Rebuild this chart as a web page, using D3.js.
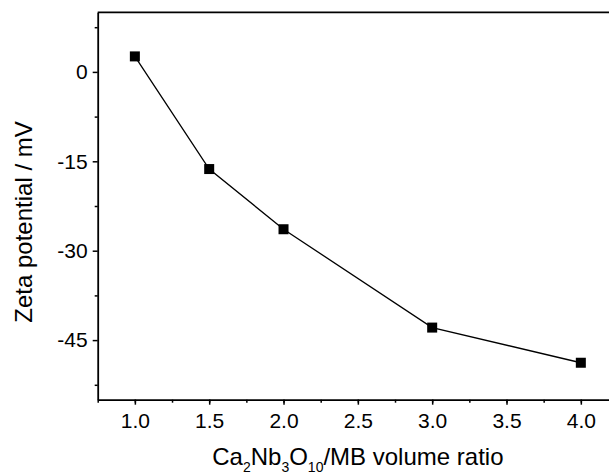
<!DOCTYPE html>
<html>
<head>
<meta charset="utf-8">
<script src="https://d3js.org/d3.v7.min.js"></script>
<style>
body { margin: 0; background: #fff; }
svg { display: block; font-family: "Liberation Sans", Arial, sans-serif; }
.axis path, .axis line { stroke: #000; }
</style>
</head>
<body>
<svg id="chart"></svg>
<script>
// data
var ratio = [1.0, 1.5, 2.0, 3.0, 4.0];
var zeta = [2.6, -16.3, -26.4, -42.9, -48.8];
var xTicks = [1.0, 1.5, 2.0, 2.5, 3.0, 3.5, 4.0];
var yTicks = [-45, -30, -15, 0];

var width = 609, height = 476;
var mLeft = 97.7, mTop = 12.3, mBottom = 399.7, mRight = 618;

var svg = d3.select("#chart").attr("width", width).attr("height", height);

var x = d3.scaleLinear().domain([0.75, 4.25]).range([mLeft, mRight]);
var y = d3.scaleLinear().domain([-55, 10]).range([mBottom, mTop]);

function styleAxis(g) {
    g.attr("font-family", "Liberation Sans, Arial, sans-serif").attr("font-size", 21);
    g.selectAll("text").attr("fill", "#000");
}

// minor ticks
svg.append("g")
    .attr("class", "axis")
    .attr("transform", "translate(0," + mBottom + ")")
    .call(d3.axisBottom(x).tickValues(d3.range(0.75, 4.3, 0.25)).tickSize(3).tickFormat("").tickSizeOuter(0))
    .call(function(g) { g.select(".domain").remove(); })
    .selectAll("line").attr("stroke-width", 1.5);

svg.append("g")
    .attr("class", "axis")
    .attr("transform", "translate(" + mLeft + ",0)")
    .call(d3.axisLeft(y).tickValues([7.5, -7.5, -22.5, -37.5, -52.5]).tickSize(3).tickFormat(""))
    .call(function(g) { g.select(".domain").remove(); })
    .selectAll("line").attr("stroke-width", 1.5);

// major axes
var xAxis = svg.append("g")
    .attr("class", "axis")
    .attr("transform", "translate(0," + mBottom + ")")
    .call(d3.axisBottom(x).tickValues(xTicks).tickSize(5).tickSizeOuter(0).tickPadding(8)
        .tickFormat(function(d) { return d.toFixed(1); }))
    .call(styleAxis);
xAxis.select(".domain").attr("stroke-width", 1.8);
xAxis.selectAll(".tick line").attr("stroke-width", 1.5);

var yAxis = svg.append("g")
    .attr("class", "axis")
    .attr("transform", "translate(" + mLeft + ",0)")
    .call(d3.axisLeft(y).tickValues(yTicks).tickSize(5).tickSizeOuter(0).tickPadding(5)
        .tickFormat(function(d) { return String(d); }))
    .call(styleAxis);
yAxis.select(".domain").attr("stroke-width", 1.8);
yAxis.selectAll(".tick line").attr("stroke-width", 1.5);

// top frame line
svg.append("line")
    .attr("x1", mLeft).attr("x2", mRight)
    .attr("y1", mTop).attr("y2", mTop)
    .attr("stroke", "#000").attr("stroke-width", 1.8);

// data line + markers
var pts = ratio.map(function(r, i) { return [r, zeta[i]]; });
svg.append("path")
    .datum(pts)
    .attr("fill", "none")
    .attr("stroke", "#000")
    .attr("stroke-width", 1.3)
    .attr("d", d3.line().x(function(d) { return x(d[0]); }).y(function(d) { return y(d[1]); }));

var ms = 10;
svg.selectAll("rect.pt")
    .data(pts)
    .enter().append("rect")
    .attr("class", "pt")
    .attr("x", function(d) { return x(d[0]) - ms / 2; })
    .attr("y", function(d) { return y(d[1]) - ms / 2; })
    .attr("width", ms).attr("height", ms)
    .attr("fill", "#000");

// axis titles
svg.append("text")
    .attr("transform", "translate(32,222) rotate(-90)")
    .attr("text-anchor", "middle")
    .style("font-size", "24px")
    .text("Zeta potential / mV");

var xl = svg.append("text")
    .attr("x", (mLeft + mRight) / 2)
    .attr("y", 465)
    .attr("text-anchor", "middle")
    .style("font-size", "24px");
xl.append("tspan").text("Ca");
xl.append("tspan").attr("dy", 7).style("font-size", "14px").text("2");
xl.append("tspan").attr("dy", -7).text("Nb");
xl.append("tspan").attr("dy", 7).style("font-size", "14px").text("3");
xl.append("tspan").attr("dy", -7).text("O");
xl.append("tspan").attr("dy", 7).style("font-size", "14px").text("10");
xl.append("tspan").attr("dy", -7).text("/MB volume ratio");
</script>
</body>
</html>
